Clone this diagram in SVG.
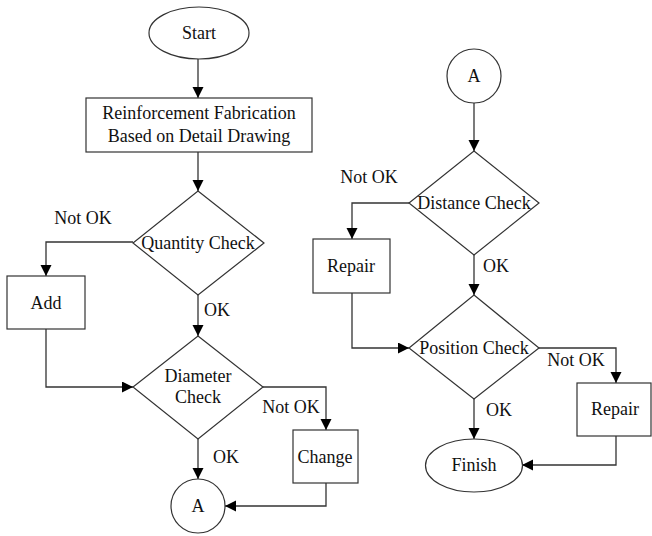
<svg xmlns="http://www.w3.org/2000/svg" width="652" height="536" viewBox="0 0 652 536">
<defs>
<marker id="arr" markerUnits="userSpaceOnUse" markerWidth="12" markerHeight="12" refX="11" refY="5.5" orient="auto">
<path d="M0,0 L11,5.5 L0,11 z" fill="#000"/>
</marker>
<style>
.s{fill:#fff;stroke:#333;stroke-width:1.2}
.c{fill:none;stroke:#333;stroke-width:1.3;marker-end:url(#arr)}
text{font-family:"Liberation Serif","Times New Roman",serif;font-size:18px;fill:#111;text-anchor:middle}
</style>
</defs>
<rect width="652" height="536" fill="#fff"/>
<g id="connectors">
<path class="c" d="M198,59 V98"/>
<path class="c" d="M198,152 V191"/>
<path class="c" d="M133,242 H46 V276"/>
<path class="c" d="M198,295 V336"/>
<path class="c" d="M46,329 V387 H133"/>
<path class="c" d="M263,387 H326 V430"/>
<path class="c" d="M198,439 V479"/>
<path class="c" d="M326,483 V506 H225"/>
<path class="c" d="M474,103 V151"/>
<path class="c" d="M409,203 H352 V239"/>
<path class="c" d="M474,255 V295"/>
<path class="c" d="M352,293 V348 H409"/>
<path class="c" d="M539,348 H616 V383"/>
<path class="c" d="M474,399 V439"/>
<path class="c" d="M616,436 V465 H522"/>
</g>
<g id="labels">
<text x="83" y="224">Not OK</text>
<text x="217" y="316">OK</text>
<text x="291" y="413">Not OK</text>
<text x="226" y="463">OK</text>
<text x="369" y="183">Not OK</text>
<text x="496" y="272">OK</text>
<text x="576" y="366">Not OK</text>
<text x="499" y="416">OK</text>
</g>
<g id="start"><ellipse class="s" cx="199" cy="33" rx="50" ry="26"/><text x="199" y="39">Start</text></g>
<g id="fabrication"><rect class="s" x="86" y="98" width="226" height="54"/><text x="199" y="119">Reinforcement Fabrication</text><text x="199" y="142">Based on Detail Drawing</text></g>
<g id="quantity"><polygon class="s" points="198,191 264,243 198,295 133,243"/><text x="198" y="249">Quantity Check</text></g>
<g id="add"><rect class="s" x="7" y="276" width="78" height="53"/><text x="46" y="309">Add</text></g>
<g id="diameter"><polygon class="s" points="198,336 263,387 198,439 133,387"/><text x="198" y="382">Diameter</text><text x="198" y="403">Check</text></g>
<g id="change"><rect class="s" x="293" y="430" width="65" height="53"/><text x="325" y="463">Change</text></g>
<g id="connA1"><circle class="s" cx="198" cy="506" r="27"/><text x="198" y="512">A</text></g>
<g id="connA2"><circle class="s" cx="474" cy="76" r="27"/><text x="474" y="82">A</text></g>
<g id="distance"><polygon class="s" points="474,151 539,203 474,255 409,203"/><text x="474" y="209">Distance Check</text></g>
<g id="repair1"><rect class="s" x="313" y="239" width="77" height="54"/><text x="351" y="272">Repair</text></g>
<g id="position"><polygon class="s" points="474,295 539,348 474,399 409,348"/><text x="474" y="354">Position Check</text></g>
<g id="repair2"><rect class="s" x="577" y="383" width="74" height="53"/><text x="615" y="415">Repair</text></g>
<g id="finish"><ellipse class="s" cx="474" cy="465.5" rx="48.5" ry="26.5"/><text x="474" y="471">Finish</text></g>
</svg>
